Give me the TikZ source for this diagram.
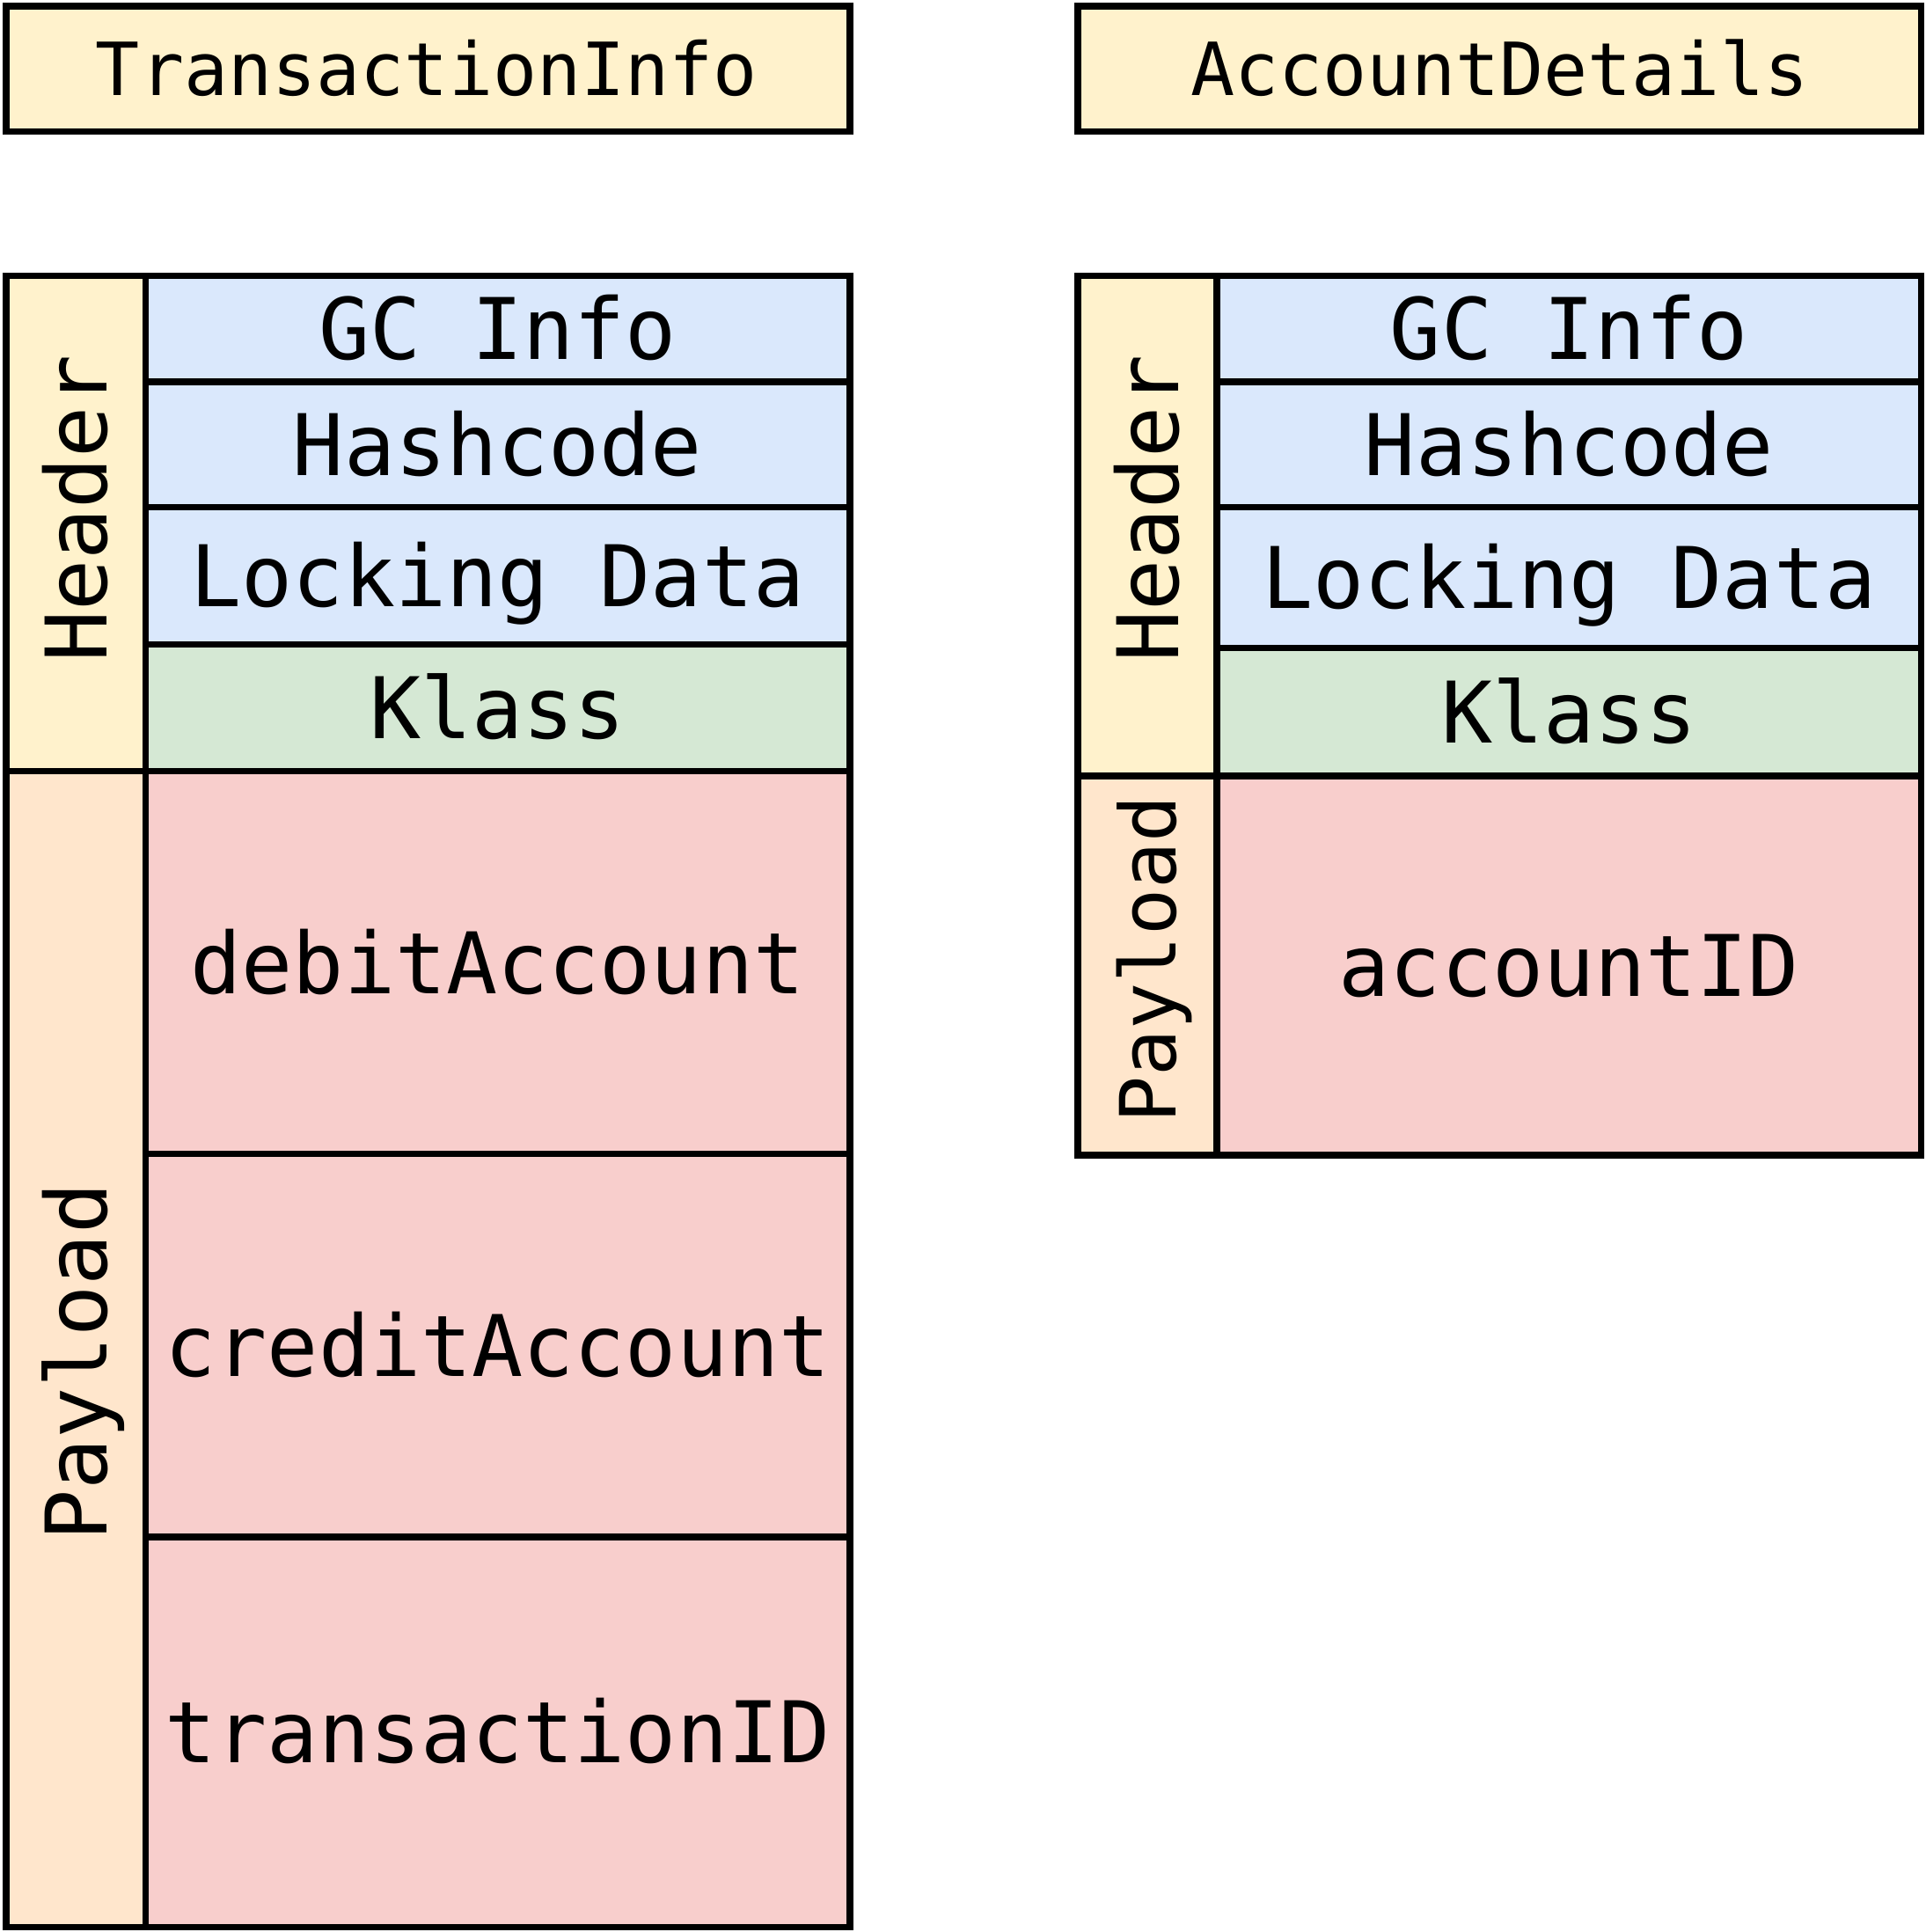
\documentclass[tikz,border=0pt]{standalone}
\usepackage{fontspec}
\setmonofont{DejaVu Sans Mono}
\definecolor{cyellow}{HTML}{FFF2CC}
\definecolor{corange}{HTML}{FFE6CC}
\definecolor{cblue}{HTML}{DAE8FC}
\definecolor{cgreen}{HTML}{D5E8D4}
\definecolor{cred}{HTML}{F8CECC}
\tikzset{
  cellbox/.style={draw=black, line width=2.6pt},
  celltext/.style={inner sep=0pt, outer sep=0pt, text height=25pt, text depth=0pt,
    font=\ttfamily\fontsize{34.5}{40}\selectfont},
  titletext/.style={inner sep=0pt, outer sep=0pt, text height=21.7pt, text depth=0pt,
    font=\ttfamily\fontsize{29.75}{35}\selectfont},
  sidetext/.style={celltext, rotate=90},
  smallside/.style={inner sep=0pt, outer sep=0pt, text height=23pt, text depth=0pt,
    font=\ttfamily\fontsize{31.5}{36}\selectfont, rotate=90},
}
\begin{document}
\begin{tikzpicture}[x=0.5pt,y=-0.5pt]
\useasboundingbox (0,0) rectangle (1563,1568.7);
% ---------- left: TransactionInfo ----------
\path[cellbox, fill=cyellow] (5,5) rectangle (690,107);
\node[titletext] (tinfo) at (346.5,56) {TransactionInfo};
\path[cellbox, fill=cyellow] (5,224) rectangle (118,626);
\path[cellbox, fill=corange] (5,626) rectangle (118,1565);
\node[sidetext] (lheader) at (62,413) {Header};
\node[sidetext] (lpayload) at (62,1106) {Payload};
\path[cellbox, fill=cblue] (118,224) rectangle (690,310);
\node[celltext] (lgc) at (404,267) {GC Info};
\path[cellbox, fill=cblue] (118,310) rectangle (690,412);
\node[celltext] (lhash) at (404,361) {Hashcode};
\path[cellbox, fill=cblue] (118,412) rectangle (690,523);
\node[celltext] (llock) at (404,467.5) {Locking Data};
\path[cellbox, fill=cgreen] (118,523) rectangle (690,626);
\node[celltext] (lklass) at (404,574.5) {Klass};
\path[cellbox, fill=cred] (118,626) rectangle (690,937);
\node[celltext] (ldebit) at (404,781.5) {debitAccount};
\path[cellbox, fill=cred] (118,937) rectangle (690,1248);
\node[celltext] (lcredit) at (404,1092.5) {creditAccount};
\path[cellbox, fill=cred] (118,1248) rectangle (690,1565);
\node[celltext] (ltrans) at (404,1406.5) {transactionID};
% ---------- right: AccountDetails ----------
\path[cellbox, fill=cyellow] (875,5) rectangle (1560,107);
\node[titletext] (adet) at (1217.5,56) {AccountDetails};
\path[cellbox, fill=cyellow] (875,224) rectangle (988,630);
\path[cellbox, fill=corange] (875,630) rectangle (988,938);
\node[sidetext] (rheader) at (932,413) {Header};
\node[smallside] (rpayload) at (932,779) {Payload};
\path[cellbox, fill=cblue] (988,224) rectangle (1560,310);
\node[celltext] (rgc) at (1274,267) {GC Info};
\path[cellbox, fill=cblue] (988,310) rectangle (1560,412);
\node[celltext] (rhash) at (1274,361) {Hashcode};
\path[cellbox, fill=cblue] (988,412) rectangle (1560,526);
\node[celltext] (rlock) at (1274,469) {Locking Data};
\path[cellbox, fill=cgreen] (988,526) rectangle (1560,630);
\node[celltext] (rklass) at (1274,578) {Klass};
\path[cellbox, fill=cred] (988,630) rectangle (1560,938);
\node[celltext] (racc) at (1274,784) {accountID};
\end{tikzpicture}
\end{document}
